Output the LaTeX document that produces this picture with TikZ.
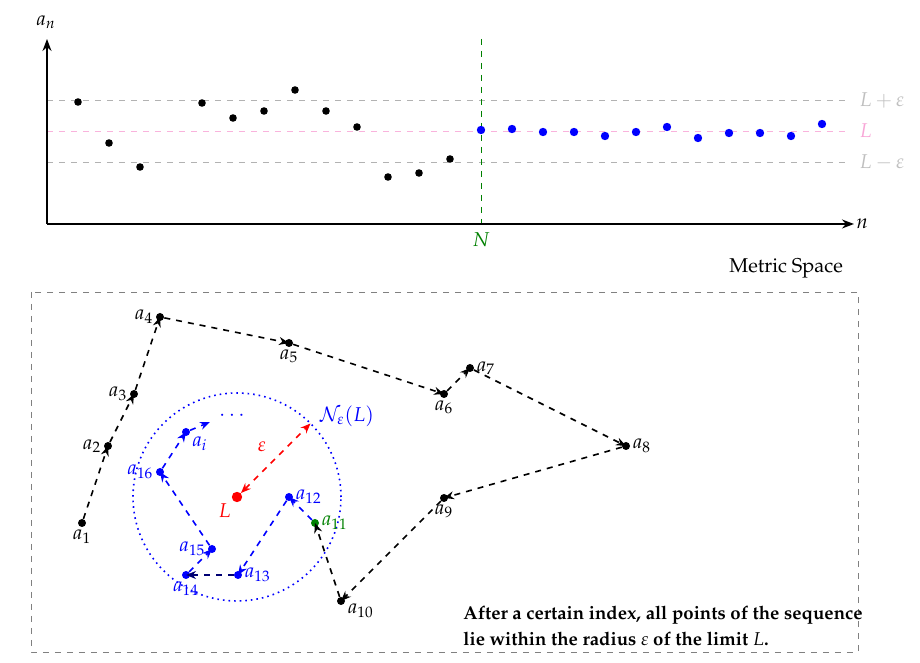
\documentclass[tikz,border=0pt]{standalone}
\usepackage[T1]{fontenc}
\usepackage{mathpazo}
\usetikzlibrary{arrows.meta}

\begin{document}
\begin{tikzpicture}[scale=0.17573,
    pt/.style={circle,fill=black,inner sep=0pt,minimum size=4pt},
    bluept/.style={pt,fill=blue,text=blue},
    seq/.style={thick,dashed,-{Stealth[length=5pt,width=4pt]}},
    bound/.style={gray!60,dashed},
    every label/.style={inner sep=1pt},
    label distance=0pt]
  \useasboundingbox (0,0) rectangle (92,-66.3);
  % plot of the sequence
  \coordinate (O) at (4.7,-22.4);
  \coordinate (ytop) at (4.7,-3.9);
  \coordinate (xend) at (85.4,-22.4);
  \draw [bound] (4.7,-10.0) -- (84.8,-10.0);
  \draw [magenta!30,dashed] (4.7,-13.1) -- (84.8,-13.1);
  \draw [bound] (4.7,-16.2) -- (84.8,-16.2);
  \node [anchor=west,inner sep=0pt,text=gray!50] (Lup) at (85.9,-10.0) {$L+\varepsilon$};
  \node [anchor=west,inner sep=0pt,text=magenta!35] (Lmid) at (85.9,-13.1) {$L$};
  \node [anchor=west,inner sep=0pt,text=gray!50] (Ldown) at (85.9,-16.2) {$L-\varepsilon$};
  \coordinate (Ntop) at (48.1,-3.9);
  \coordinate (Nbot) at (48.1,-22.4);
  \draw [green!50!black,dashed] (Ntop) -- (Nbot);
  \node [text=green!50!black] (N) at (48.1,-24.0) {$N$};
  \draw [thick,-{Stealth[length=6pt,width=4.5pt]}] (O) -- (ytop);
  \draw [thick,-{Stealth[length=6pt,width=4.5pt]}] (O) -- (xend);
  \node (an) at (4.6,-2.2) {$a_n$};
  \node [anchor=west,inner sep=1pt] (n) at (xend) {$n$};
  \fill [black] (7.8,-10.2) circle (0.38);
  \fill [black] (10.9,-14.3) circle (0.38);
  \fill [black] (14.0,-16.7) circle (0.38);
  \fill [black] (20.2,-10.3) circle (0.38);
  \fill [black] (23.3,-11.8) circle (0.38);
  \fill [black] (26.4,-11.1) circle (0.38);
  \fill [black] (29.5,-9.0) circle (0.38);
  \fill [black] (32.6,-11.1) circle (0.38);
  \fill [black] (35.7,-12.7) circle (0.38);
  \fill [black] (38.8,-17.7) circle (0.38);
  \fill [black] (41.9,-17.3) circle (0.38);
  \fill [black] (45.0,-15.9) circle (0.38);
  \fill [blue] (48.1,-13.0) circle (0.42);
  \fill [blue] (51.2,-12.9) circle (0.42);
  \fill [blue] (54.3,-13.2) circle (0.42);
  \fill [blue] (57.4,-13.2) circle (0.42);
  \fill [blue] (60.5,-13.6) circle (0.42);
  \fill [blue] (63.6,-13.2) circle (0.42);
  \fill [blue] (66.7,-12.7) circle (0.42);
  \fill [blue] (69.8,-13.8) circle (0.42);
  \fill [blue] (72.9,-13.3) circle (0.42);
  \fill [blue] (76.0,-13.3) circle (0.42);
  \fill [blue] (79.1,-13.6) circle (0.42);
  \fill [blue] (82.2,-12.4) circle (0.42);
  % metric space
  \draw [gray,dashed] (3.1,-29.2) rectangle (85.8,-65.2);
  \node [anchor=east] (space) at (85.0,-26.8) {Metric Space};
  \node [pt,fill=red,minimum size=5.2pt,label={[text=red]225:$L$}] (L) at (23.7,-49.7) {};
  \draw [blue,dotted,thick] (L.center) circle (10.4);
  \coordinate (rim) at (31.05,-42.35);
  \node [text=red] (eps) at (26.2,-44.7) {$\varepsilon$};
  \node [text=blue] (nbhd) at (34.7,-41.6) {$\mathcal{N}_\varepsilon(L)$};
  \node [pt,label=below:$a_1$] (a1) at (8.2,-52.3) {};
  \node [pt,label=left:$a_2$] (a2) at (10.8,-44.6) {};
  \node [pt,label=left:$a_3$] (a3) at (13.4,-39.4) {};
  \node [pt,label=left:$a_4$] (a4) at (16.0,-31.7) {};
  \node [pt,label=below:$a_5$] (a5) at (28.9,-34.3) {};
  \node [pt,label=below:$a_6$] (a6) at (44.4,-39.4) {};
  \node [pt,label=right:$a_7$] (a7) at (47.0,-36.8) {};
  \node [pt,label=right:$a_8$] (a8) at (62.6,-44.6) {};
  \node [pt,label=below:$a_9$] (a9) at (44.4,-49.8) {};
  \node [pt,label=-10:$a_{10}$] (a10) at (34.1,-60.1) {};
  \node [pt,fill=green!50!black,label={[text=green!50!black]right:$a_{11}$}] (a11) at (31.5,-52.3) {};
  \node [bluept,label={[text=blue]right:$a_{12}$}] (a12) at (28.9,-49.7) {};
  \node [bluept,label={[text=blue]right:$a_{13}$}] (a13) at (23.8,-57.5) {};
  \node [bluept,label={[text=blue]below:$a_{14}$}] (a14) at (18.6,-57.5) {};
  \node [bluept,label={[text=blue]left:$a_{15}$}] (a15) at (21.2,-54.9) {};
  \node [bluept,label={[text=blue]left:$a_{16}$}] (a16) at (16.0,-47.2) {};
  \node [bluept,label={[text=blue]-30:$a_i$}] (ai) at (18.6,-43.2) {};
  \coordinate (next) at (21.0,-42.2);
  \node [text=blue] (more) at (23.2,-41.6) {$\cdots$};
  \draw [red,thick,dashed,{Stealth[length=5pt,width=4pt]}-{Stealth[length=5pt,width=4pt]}] (L) -- (rim);
  \draw [seq] (a1) -- (a2.center);
  \draw [seq] (a2) -- (a3.center);
  \draw [seq] (a3) -- (a4.center);
  \draw [seq] (a4) -- (a5.center);
  \draw [seq] (a5) -- (a6.center);
  \draw [seq] (a6) -- (a7.center);
  \draw [seq] (a7) -- (a8.center);
  \draw [seq] (a8) -- (a9.center);
  \draw [seq] (a9) -- (a10.center);
  \draw [seq] (a10) -- (a11.center);
  \draw [seq,blue] (a11) -- (a12.center);
  \draw [seq,blue] (a12) -- (a13.center);
  \draw [seq,blue!45!black] (a13) -- (a14.center);
  \draw [seq,blue] (a14) -- (a15.center);
  \draw [seq,blue] (a15) -- (a16.center);
  \draw [seq,blue] (a16) -- (ai.center);
  \draw [seq,blue] (ai) -- (next);
  \node [anchor=west,inner sep=0pt,align=left,font=\bfseries\fontsize{9.3}{13}\selectfont] (note) at (46.3,-62.6)
    {After a certain index, all points of the sequence\\ lie within the radius $\varepsilon$ of the limit $L$.};
\end{tikzpicture}
\end{document}
